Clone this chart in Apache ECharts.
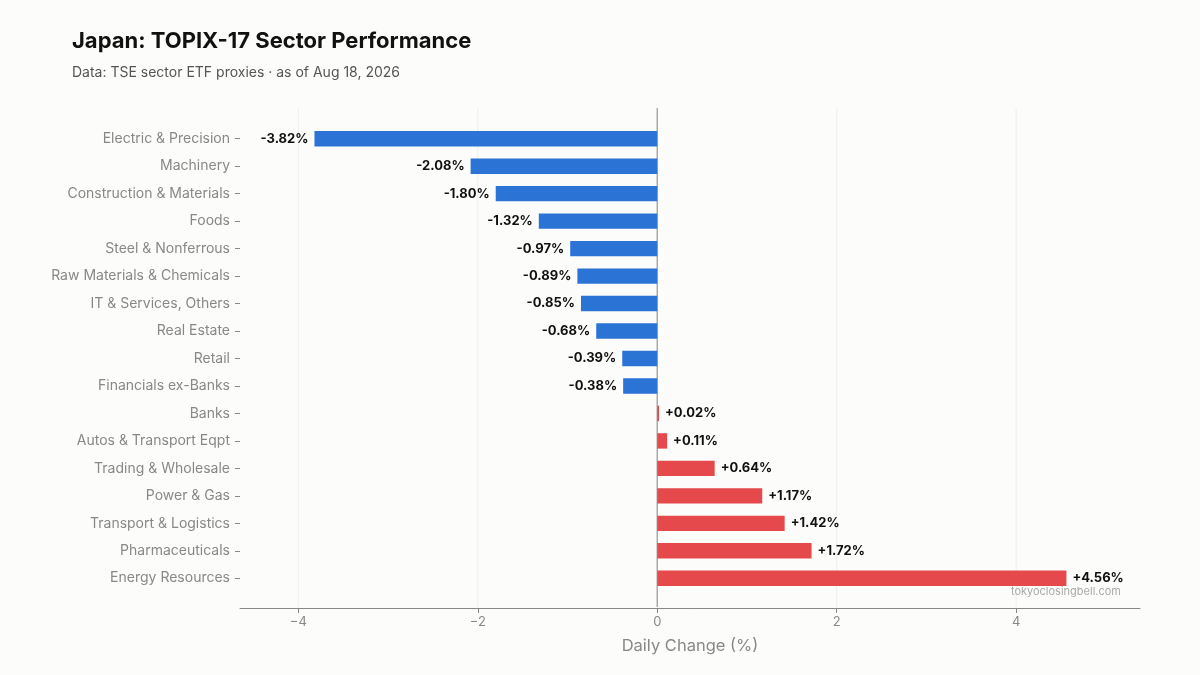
<!DOCTYPE html>
<html>
<head>
<meta charset="utf-8">
<script src="https://cdn.jsdelivr.net/npm/echarts@6/dist/echarts.min.js"></script>
<style>html,body{margin:0;padding:0;background:#fcfcfa;}#main{width:1200px;height:675px;}</style>
</head>
<body>
<div id="main"></div>
<script>
var sectors = ['Electric & Precision', 'Machinery', 'Construction & Materials', 'Foods',
    'Steel & Nonferrous', 'Raw Materials & Chemicals', 'IT & Services, Others', 'Real Estate',
    'Retail', 'Financials ex-Banks', 'Banks', 'Autos & Transport Eqpt', 'Trading & Wholesale',
    'Power & Gas', 'Transport & Logistics', 'Pharmaceuticals', 'Energy Resources'];
var changes = [-3.82, -2.08, -1.80, -1.32, -0.97, -0.89, -0.85, -0.68, -0.39, -0.38,
    0.02, 0.11, 0.64, 1.17, 1.42, 1.72, 4.56];
var xTicks = [-4, -2, 0, 2, 4];
var gridLines = [-4, -2, 2, 4];

var myChart = echarts.init(document.getElementById('main'));
var font = 'Inter, "Noto Sans", sans-serif';
var plotTop = 108, plotBottom = 607;

var option = {
    backgroundColor: '#fcfcfa',
    textStyle: {fontFamily: font},
    title: {
        text: 'Japan: TOPIX-17 Sector Performance',
        subtext: 'Data: TSE sector ETF proxies · as of Aug 18, 2026',
        left: 67, top: 25,
        textStyle: {fontSize: 22, fontWeight: 'bold', color: '#111', fontFamily: font},
        subtextStyle: {fontSize: 14, color: '#555', fontFamily: font},
        itemGap: 14
    },
    graphic: [{
        type: 'text', right: 79, top: 586, z: 10,
        style: {text: 'tokyoclosingbell.com', fill: '#aaa', fontSize: 11, fontFamily: font}
    }],
    grid: {left: 240, right: 60, top: 125, bottom: 83},
    xAxis: {
        type: 'value', min: -4.65, max: 5.38, offset: 16,
        name: 'Daily Change (%)', nameLocation: 'middle', nameGap: 30,
        nameTextStyle: {fontSize: 16.5, color: '#888'},
        axisLine: {show: true, onZero: false, lineStyle: {color: '#888'}},
        axisTick: {show: true, customValues: xTicks, lineStyle: {color: '#888'}},
        axisLabel: {customValues: xTicks, color: '#888', fontSize: 13,
            formatter: function (v) { return v < 0 ? '\u2212' + Math.abs(v) : String(v); }},
        splitLine: {show: false}
    },
    yAxis: {
        type: 'category', data: sectors, inverse: true,
        axisLine: {show: false, onZero: false},
        axisTick: {show: true, length: 5, alignWithLabel: true, lineStyle: {color: '#888'}},
        axisLabel: {color: '#888', fontSize: 14, margin: 10}
    },
    series: [{
        type: 'bar',
        barWidth: '56%',
        data: changes.map(function (v) {
            return {
                value: v,
                itemStyle: {color: v < 0 ? '#2b74d6' : '#e5494b'},
                label: {position: v < 0 ? 'left' : 'right'}
            };
        }),
        label: {
            show: true, distance: 6, color: '#111', fontSize: 13, fontWeight: 'bold',
            formatter: function (p) { return (p.value > 0 ? '+' : '') + p.value.toFixed(2) + '%'; }
        }
    }]
};
myChart.setOption(option);

// grid lines and zero line over the full plot height
var lines = gridLines.map(function (g) { return {v: g, c: '#eeeeea', w: 1}; })
    .concat([{v: 0, c: '#aaa', w: 1.5}]);
var extra = lines.map(function (l) {
    var x = myChart.convertToPixel({xAxisIndex: 0}, l.v);
    return {type: 'line', z: -1, silent: true,
        shape: {x1: x, y1: plotTop, x2: x, y2: plotBottom},
        style: {stroke: l.c, lineWidth: l.w}};
});
myChart.setOption({graphic: option.graphic.concat(extra)});
</script>
</body>
</html>
